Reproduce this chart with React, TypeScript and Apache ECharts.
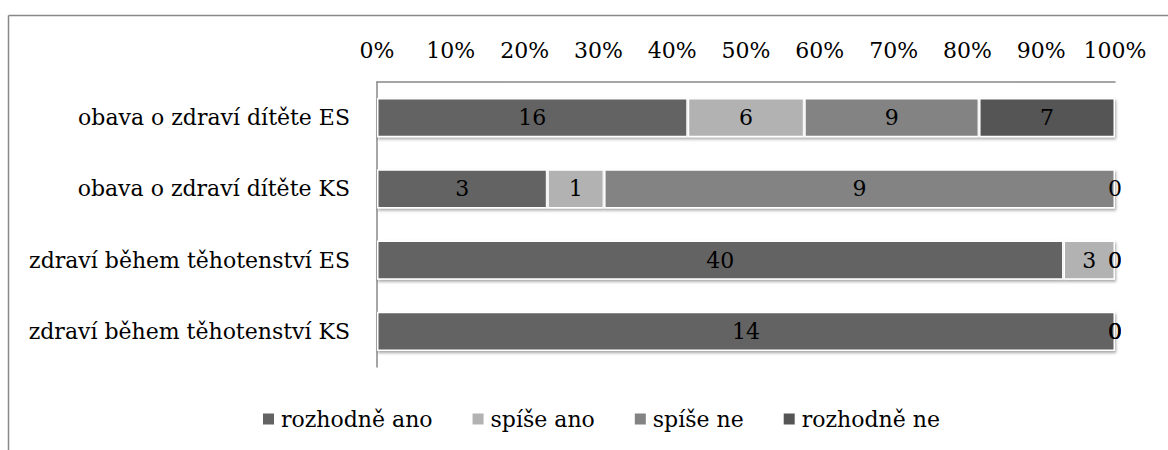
import React, { useEffect, useRef } from "react";
import * as echarts from "echarts";

const categories = [
  "obava o zdraví dítěte ES",
  "obava o zdraví dítěte KS",
  "zdraví během těhotenství ES",
  "zdraví během těhotenství KS",
];
const seriesNames = ["rozhodně ano", "spíše ano", "spíše ne", "rozhodně ne"];
const rozhodneAno = [16, 3, 40, 14];
const spiseAno = [6, 1, 3, 0];
const spiseNe = [9, 9, 0, 0];
const rozhodneNe = [7, 0, 0, 0];
const colors = ["#636363", "#b2b2b2", "#838383", "#555555"];
const FONT = "DejaVu Serif";
const FS = 22;

export default function App() {
  const ref = useRef<HTMLDivElement>(null);
  useEffect(() => {
    if (!ref.current) return;
    const chart = echarts.init(ref.current, undefined, { renderer: "svg" });
    const counts = [rozhodneAno, spiseAno, spiseNe, rozhodneNe];
    const totals = categories.map((_, i) => counts.reduce((s, arr) => s + arr[i], 0));
    const series = counts.map((arr, si) => ({
      name: seriesNames[si],
      type: "bar",
      stack: "total",
      barCategoryGap: "45%",
      data: arr.map((v, i) => (v / totals[i]) * 100),
      itemStyle: {
        color: colors[si],
        borderColor: "#ffffff",
        borderWidth: 1.5,
        shadowBlur: 3,
        shadowOffsetX: 1,
        shadowOffsetY: 2,
        shadowColor: "rgba(0,0,0,0.35)",
      },
      label: {
        show: true,
        position: "inside",
        color: "#000",
        fontFamily: FONT,
        fontSize: FS,
        formatter: (p: any) => String(arr[p.dataIndex]),
      },
    }));
    chart.setOption({
      animation: false,
      textStyle: { fontFamily: FONT },
      grid: { left: 377, right: 53, top: 82, bottom: 83, containLabel: false },
      graphic: [
        { type: "line", shape: { x1: 8.5, y1: 15.5, x2: 1168, y2: 15.5 }, style: { stroke: "#888", lineWidth: 1.5 } },
        { type: "line", shape: { x1: 8.5, y1: 15.5, x2: 8.5, y2: 450 }, style: { stroke: "#888", lineWidth: 1.5 } },
      ],
      legend: {
        top: 403,
        left: 256,
        icon: "rect",
        itemWidth: 13,
        itemHeight: 13,
        itemGap: 38,
        textStyle: { fontFamily: FONT, fontSize: FS, color: "#000", padding: [0, 0, 0, 1] },
        data: seriesNames,
      },
      xAxis: {
        type: "value",
        position: "top",
        min: 0,
        max: 100,
        interval: 10,
        axisLine: { show: true, lineStyle: { color: "#888", width: 1.5 } },
        axisTick: { show: false },
        splitLine: { show: false },
        axisLabel: { formatter: "{value}%", color: "#000", fontFamily: FONT, fontSize: FS, margin: 21 },
      },
      yAxis: {
        type: "category",
        inverse: true,
        data: categories,
        axisLine: { show: true, lineStyle: { color: "#888", width: 1.5 } },
        axisTick: { show: false },
        axisLabel: { color: "#000", fontFamily: FONT, fontSize: FS, margin: 27 },
      },
      series,
    });
    return () => chart.dispose();
  }, []);
  return <div ref={ref} style={{ width: 1168, height: 450, position: "absolute", left: 0, top: 0 }} />;
}
